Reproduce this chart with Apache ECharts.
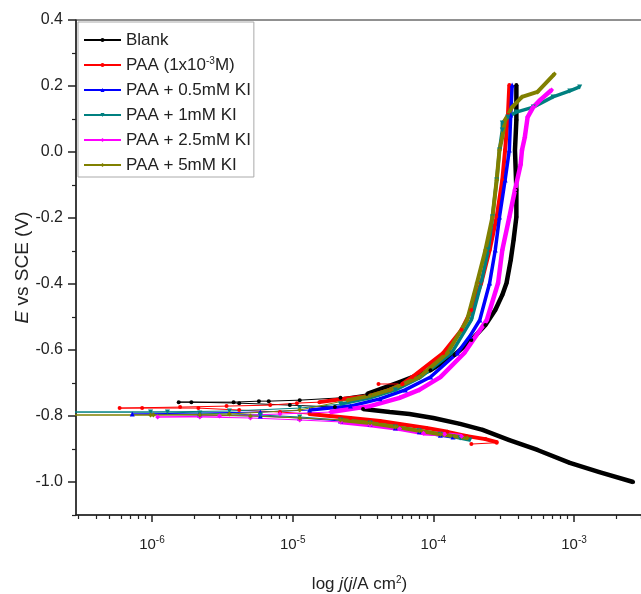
<!DOCTYPE html>
<html>
<head>
<meta charset="utf-8">
<script src="https://cdn.jsdelivr.net/npm/echarts@6/dist/echarts.min.js"></script>
<style>
  html, body { margin: 0; padding: 0; background: #fff; }
  #chart { width: 641px; height: 594px; }
</style>
</head>
<body>
<div id="chart"></div>
<script>
// Tafel curves: log10 j (A cm-2) and E (V vs SCE)
// each curve runs cathodic end -> corrosion potential -> anodic end
const blankLogJ = [-2.58, -2.82, -3.03, -3.26, -3.46, -3.65, -3.81, -4.00, -4.17, -4.31, -4.50, -4.70, -5.02, -5.38, -5.72, -5.81, -5.42, -5.24, -5.17, -4.95, -4.66, -4.47, -4.24, -4.02, -3.85, -3.73, -3.63, -3.56, -3.51, -3.48, -3.45, -3.43, -3.41, -3.41, -3.42, -3.41, -3.41];
const blankE = [-1.000, -0.970, -0.942, -0.903, -0.873, -0.842, -0.824, -0.806, -0.794, -0.788, -0.779, -0.773, -0.767, -0.761, -0.758, -0.758, -0.758, -0.755, -0.755, -0.752, -0.745, -0.733, -0.697, -0.661, -0.615, -0.570, -0.524, -0.479, -0.433, -0.397, -0.327, -0.267, -0.197, -0.115, 0.006, 0.097, 0.203];

const paaLogJ = [-3.55, -3.63, -3.76, -3.90, -4.05, -4.24, -4.38, -4.59, -4.88, -5.09, -5.38, -5.67, -6.07, -6.23, -5.80, -5.47, -5.16, -4.97, -4.81, -4.63, -4.45, -4.31, -4.22, -4.15, -3.93, -3.80, -3.73, -3.66, -3.60, -3.55, -3.51, -3.49, -3.47, -3.46];
const paaE = [-0.879, -0.870, -0.861, -0.848, -0.836, -0.824, -0.815, -0.806, -0.794, -0.788, -0.782, -0.776, -0.776, -0.776, -0.773, -0.770, -0.767, -0.761, -0.758, -0.748, -0.739, -0.721, -0.703, -0.682, -0.609, -0.539, -0.479, -0.397, -0.297, -0.197, -0.085, 0.006, 0.112, 0.203];
// two stray red readings, each joined to the curve by a thin segment
const paaStrayLogJ = [-3.73, -3.55, null, -4.39, -4.22];
const paaStrayE = [-0.885, -0.881, null, -0.703, -0.703];

const ki05LogJ = [-3.86, -3.95, -4.10, -4.27, -4.45, -4.66, -4.95, -5.23, -5.66, -6.14, -5.66, -5.23, -4.88, -4.59, -4.38, -4.20, -4.02, -3.83, -3.74, -3.67, -3.60, -3.56, -3.53, -3.49, -3.46, -3.45, -3.44];
const ki05E = [-0.864, -0.858, -0.848, -0.836, -0.824, -0.815, -0.806, -0.800, -0.797, -0.794, -0.791, -0.788, -0.782, -0.770, -0.748, -0.721, -0.682, -0.609, -0.558, -0.509, -0.397, -0.297, -0.197, -0.085, 0.006, 0.112, 0.203];

const ki1LogJ = [-3.74, -3.81, -3.95, -4.10, -4.27, -4.45, -4.66, -4.95, -5.23, -5.66, -5.89, -6.58, -6.01, -5.45, -4.95, -4.66, -4.45, -4.27, -4.10, -3.87, -3.73, -3.66, -3.61, -3.58, -3.55, -3.53, -3.51, -3.51, -3.47, -3.41, -3.29, -3.15, -3.03, -2.96];
const ki1E = [-0.873, -0.867, -0.855, -0.845, -0.833, -0.821, -0.812, -0.803, -0.797, -0.791, -0.788, -0.788, -0.788, -0.785, -0.776, -0.764, -0.745, -0.721, -0.685, -0.609, -0.509, -0.397, -0.297, -0.197, -0.085, 0.006, 0.067, 0.088, 0.106, 0.121, 0.136, 0.167, 0.185, 0.197];

const ki25LogJ = [-3.80, -3.92, -4.07, -4.24, -4.45, -4.66, -4.95, -5.30, -5.66, -5.96, -5.52, -5.09, -4.73, -4.45, -4.24, -4.10, -3.95, -3.78, -3.62, -3.54, -3.51, -3.46, -3.42, -3.38, -3.37, -3.35, -3.33, -3.29, -3.24, -3.16];
const ki25E = [-0.861, -0.855, -0.852, -0.839, -0.827, -0.818, -0.812, -0.806, -0.803, -0.803, -0.800, -0.794, -0.788, -0.770, -0.745, -0.721, -0.682, -0.609, -0.509, -0.397, -0.297, -0.197, -0.115, -0.039, 0.006, 0.045, 0.106, 0.136, 0.158, 0.188];

const ki5LogJ = [-3.76, -3.85, -3.95, -4.10, -4.27, -4.45, -4.66, -4.95, -5.30, -5.66, -5.99, -6.58, -6.01, -5.45, -4.95, -4.61, -4.45, -4.31, -4.10, -3.90, -3.76, -3.69, -3.63, -3.58, -3.55, -3.53, -3.51, -3.49, -3.44, -3.37, -3.26, -3.14];
const ki5E = [-0.867, -0.861, -0.855, -0.845, -0.833, -0.821, -0.812, -0.806, -0.800, -0.797, -0.797, -0.797, -0.797, -0.794, -0.782, -0.752, -0.739, -0.721, -0.682, -0.609, -0.509, -0.397, -0.297, -0.197, -0.085, 0.006, 0.045, 0.097, 0.136, 0.167, 0.182, 0.236];

const seriesNames = ['Blank', 'PAA (1x10-3M)', 'PAA + 0.5mM KI', 'PAA + 1mM KI', 'PAA + 2.5mM KI', 'PAA + 5mM KI'];
const decadeTicks = [-6, -5, -4, -3];
const potentialTicks = [-1.0, -0.8, -0.6, -0.4, -0.2, 0.0, 0.2, 0.4];
const potentialMinorTicks = [-1.1, -0.9, -0.7, -0.5, -0.3, -0.1, 0.1, 0.3];

const xMin = -6.54, xMax = -2.51, yMin = -1.1, yMax = 0.4;

// minor ticks at 2..9 x 10^n
const minorDecadeTicks = [];
for (let n = -7; n <= -3; n++) {
  for (let k = 2; k <= 9; k++) {
    const v = n + Math.log10(k);
    if (v > xMin && v < xMax) minorDecadeTicks.push(v);
  }
}

const curves = [
  { logJ: blankLogJ, e: blankE, color: '#000000', symbol: 'circle', size: 4, dense: -4.55, band: 4.5 },
  { logJ: paaLogJ, e: paaE, color: '#ff0000', symbol: 'circle', size: 4, dense: -4.9, band: 4 },
  { logJ: ki05LogJ, e: ki05E, color: '#0000ff', symbol: 'triangle', size: 5, dense: -4.9, band: 3.5 },
  { logJ: ki1LogJ, e: ki1E, color: '#008080', symbol: 'triangle', size: 5, rotate: 180, dense: -4.9, band: 3.5 },
  { logJ: ki25LogJ, e: ki25E, color: '#ff00ff', symbol: 'diamond', size: 5, dense: -4.9, band: 4.5 },
  { logJ: ki5LogJ, e: ki5E, color: '#808000', symbol: 'diamond', size: 5, dense: -4.9, band: 4 }
];

const series = [];
curves.forEach((c, i) => {
  const pts = c.logJ.map((x, k) => [x, c.e[k]]);
  series.push({
    name: seriesNames[i],
    type: 'line',
    data: pts,
    symbol: c.symbol,
    symbolSize: c.size,
    symbolRotate: c.rotate || 0,
    lineStyle: { color: c.color, width: 1 },
    itemStyle: { color: c.color },
    clip: true
  });
  // the dense part of each curve reads as a thick band
  series.push({
    name: seriesNames[i] + ' band',
    type: 'line',
    data: pts.map(p => (p[0] > c.dense ? p : [p[0], '-'])),
    showSymbol: false,
    connectNulls: false,
    lineStyle: { color: c.color, width: c.band },
    clip: true
  });
  if (i === 1) {
    series.push({
      name: 'PAA stray',
      type: 'line',
      data: paaStrayLogJ.map((x, k) => (x === null ? ['-', '-'] : [x, paaStrayE[k]])),
      symbol: 'circle',
      symbolSize: 4,
      connectNulls: false,
      lineStyle: { color: '#ff0000', width: 1 },
      itemStyle: { color: '#ff0000' }
    });
  }
});

const chart = echarts.init(document.getElementById('chart'));
const font = '"Liberation Sans", Arial, sans-serif';

chart.setOption({
  animation: false,
  backgroundColor: '#ffffff',
  textStyle: { fontFamily: font },
  grid: {
    left: 76, top: 20, right: -2, bottom: 79,
    outerBoundsMode: 'none', containLabel: false,
    show: true, borderColor: '#222', borderWidth: 1
  },
  legend: {
    data: seriesNames,
    orient: 'vertical',
    left: 78,
    top: 22,
    padding: [9, 3, 3, 5],
    itemWidth: 37,
    itemHeight: 5,
    itemGap: 7,
    borderColor: '#aaa',
    borderWidth: 1,
    backgroundColor: '#fff',
    formatter: name => (name === 'PAA (1x10-3M)' ? '{t|PAA (1x10}{s|-3}{t|M)}' : name),
    textStyle: {
      fontFamily: font, fontSize: 17, color: '#222', lineHeight: 18,
      rich: {
        t: { fontFamily: font, fontSize: 17, color: '#222', lineHeight: 18 },
        s: { fontFamily: font, fontSize: 10, color: '#222', padding: [0, 0, 8, 0] }
      }
    }
  },
  xAxis: [
    {
      type: 'value', min: xMin, max: xMax,
      name: '{n|log }{i|j}{n|(}{i|j}{n|/A cm}{s|2}{n|)}',
      nameLocation: 'middle', nameGap: 60, nameMoveOverlap: false,
      nameTextStyle: {
        rich: {
          n: { fontFamily: font, fontSize: 17, color: '#222' },
          i: { fontFamily: font, fontSize: 17, color: '#222', fontStyle: 'italic' },
          s: { fontFamily: font, fontSize: 10, color: '#222', padding: [0, 0, 9, 0] }
        }
      },
      splitLine: { show: false },
      axisLine: { onZero: false, lineStyle: { color: '#222', width: 1.5 } },
      axisTick: { length: 7, customValues: decadeTicks, lineStyle: { color: '#222', width: 1.5 } },
      axisLabel: {
        customValues: decadeTicks, margin: 20,
        formatter: v => '{b|10}{s|' + v + '}',
        rich: {
          b: { fontFamily: font, fontSize: 15, color: '#222' },
          s: { fontFamily: font, fontSize: 10, color: '#222', padding: [0, 0, 9, 0] }
        }
      }
    },
    {
      type: 'value', min: xMin, max: xMax, position: 'bottom',
      splitLine: { show: false },
      axisLine: { show: false, onZero: false },
      axisTick: { length: 4, customValues: minorDecadeTicks, lineStyle: { color: '#222', width: 1.2 } },
      axisLabel: { show: false }
    }
  ],
  yAxis: [
    {
      type: 'value', min: yMin, max: yMax,
      name: '{i|E}{n| vs SCE (V)}',
      nameLocation: 'middle', nameGap: 44, nameMoveOverlap: false,
      nameTextStyle: {
        rich: {
          n: { fontFamily: font, fontSize: 19, color: '#222' },
          i: { fontFamily: font, fontSize: 19, color: '#222', fontStyle: 'italic' }
        }
      },
      splitLine: { show: false },
      axisLine: { onZero: false, lineStyle: { color: '#222', width: 1.5 } },
      axisTick: { length: 8, customValues: potentialTicks, lineStyle: { color: '#222', width: 1.5 } },
      axisLabel: {
        customValues: potentialTicks, margin: 13,
        fontFamily: font, fontSize: 16, color: '#222',
        formatter: v => v.toFixed(1)
      }
    },
    {
      type: 'value', min: yMin, max: yMax, position: 'left',
      splitLine: { show: false },
      axisLine: { show: false, onZero: false },
      axisTick: { length: 4, customValues: potentialMinorTicks, lineStyle: { color: '#222', width: 1.2 } },
      axisLabel: { show: false }
    }
  ],
  series: series
});
</script>
</body>
</html>
